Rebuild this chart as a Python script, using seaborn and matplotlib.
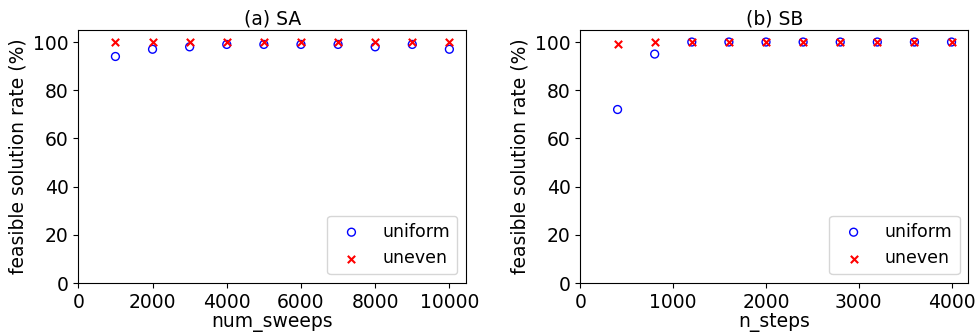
import matplotlib
matplotlib.use("Agg")
import matplotlib.pyplot as plt
import seaborn as sns
import pandas as pd

sa_sweeps = [1000, 2000, 3000, 4000, 5000, 6000, 7000, 8000, 9000, 10000]
sa_uniform = [94, 97, 98, 99, 99, 99, 99, 98, 99, 97]
sa_uneven = [100, 100, 100, 100, 100, 100, 100, 100, 100, 100]

sb_steps = [400, 800, 1200, 1600, 2000, 2400, 2800, 3200, 3600, 4000]
sb_uniform = [72, 95, 100, 100, 100, 100, 100, 100, 100, 100]
sb_uneven = [99, 100, 100, 100, 100, 100, 100, 100, 100, 100]

sns.set_style("ticks", {"axes.edgecolor": "black", "xtick.color": "black",
                        "ytick.color": "black", "axes.labelcolor": "black",
                        "text.color": "black"})
plt.rcParams['font.family'] = ['DejaVu Sans']

fig, axes = plt.subplots(1, 2, figsize=(9.79, 3.33), dpi=100)

panels = [
    (axes[0], sa_sweeps, sa_uniform, sa_uneven, "num_sweeps", "(a) SA", [0, 2000, 4000, 6000, 8000, 10000]),
    (axes[1], sb_steps, sb_uniform, sb_uneven, "n_steps", "(b) SB", [0, 1000, 2000, 3000, 4000]),
]

for ax, xs, uni, unv, xlabel, title, xticks in panels:
    df_u = pd.DataFrame({"x": xs, "y": uni})
    df_v = pd.DataFrame({"x": xs, "y": unv})
    sns.scatterplot(data=df_u, x="x", y="y", ax=ax, marker="o", facecolors="none",
                    edgecolor="blue", linewidth=1.0, s=32, label="uniform")
    sns.scatterplot(data=df_v, x="x", y="y", ax=ax, marker="x", color="red",
                    linewidth=1.5, s=28, label="uneven")
    span = xs[-1] - xs[0]
    ax.set_xlim(0, xs[-1] + 0.05 * span)
    ax.set_ylim(0, 105)
    ax.set_xticks(xticks)
    ax.set_yticks([0, 20, 40, 60, 80, 100])
    ax.tick_params(labelsize=13.5, colors="black", length=3.5)
    ax.set_xlabel(xlabel, fontsize=13.5, labelpad=1)
    ax.set_ylabel("feasible solution rate (%)", fontsize=13.5)
    ax.set_title(title, fontsize=13.5, pad=4)
    ax.legend(loc="lower right", fontsize=12.5)
    for s in ax.spines.values():
        s.set_visible(True)
        s.set_color("black")

fig.subplots_adjust(left=0.08, right=0.989, top=0.91, bottom=0.15, wspace=0.295)
fig.savefig("out.png", dpi=100)
